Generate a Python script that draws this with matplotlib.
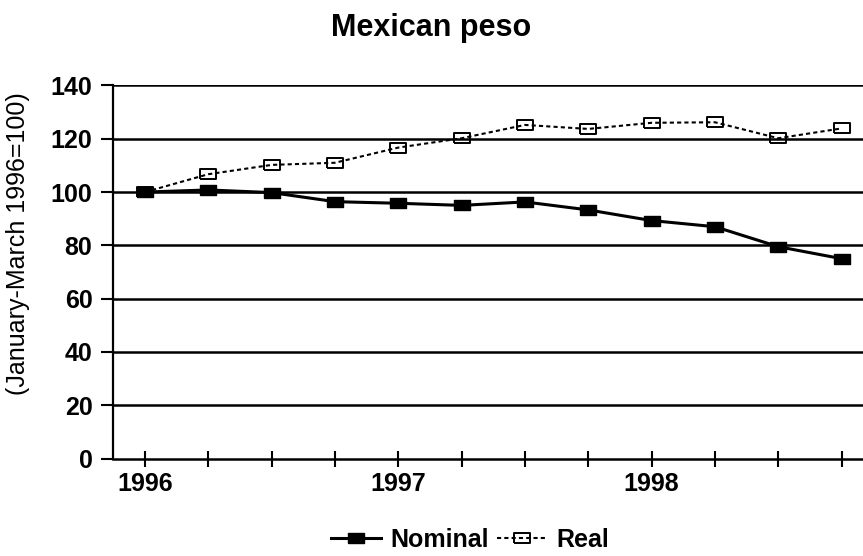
"""Mexican peso: nominal and real index, quarterly 1996-1998."""

import matplotlib
matplotlib.use('Agg')
import matplotlib.pyplot as plt
import numpy as np

plt.rcParams['font.family'] = ['Liberation Sans', 'DejaVu Sans']

quarters = np.arange(12)
year_ticks = [0, 4, 8]
year_labels = ['1996', '1997', '1998']
nominal = [100.0, 100.8, 99.8, 96.4, 95.8, 95.0, 96.3, 93.3, 89.3, 87.0, 79.5, 75.0]
real = [100.0, 106.7, 110.2, 111.0, 116.7, 120.2, 125.2, 123.7, 126.0, 126.2, 120.2, 123.9]
y_ticks = [0, 20, 40, 60, 80, 100, 120, 140]

# wide, flat box marker like the original
box = [(-1.5, -1), (1.5, -1), (1.5, 1), (-1.5, 1), (-1.5, -1)]

fig = plt.figure(figsize=(8.63, 5.56), dpi=100)
ax = fig.add_axes([113.3 / 863, 97.5 / 556, 760 / 863, 373 / 556])

for y in y_ticks[1:]:
    ax.axhline(y, color='black', lw=1.8, zorder=1)

ax.plot(quarters, nominal, color='black', lw=2.2, marker=box,
        markersize=11, markerfacecolor='black', markeredgecolor='black',
        label='Nominal', zorder=3)
ax.plot(quarters, real, color='black', lw=1.5, linestyle=(0, (2, 1.5)),
        marker=box, markersize=11, markerfacecolor='none',
        markeredgecolor='black', markeredgewidth=1.4, label='Real', zorder=3)

ax.set_xlim(-0.5, 11.5)
ax.set_ylim(0, 140)
ax.set_yticks(y_ticks)
ax.set_xticks(quarters)
ax.set_xticklabels([year_labels[year_ticks.index(q)] if q in year_ticks else ''
                    for q in quarters])

for side in ['top', 'right']:
    ax.spines[side].set_visible(False)
ax.spines['left'].set_linewidth(1.6)
ax.spines['bottom'].set_linewidth(1.8)
ax.tick_params(axis='y', direction='out', length=9, width=1.5, pad=6,
               labelsize=18)
ax.tick_params(axis='x', direction='inout', length=11, width=1.5, pad=4,
               labelsize=18)
for lab in ax.get_xticklabels() + ax.get_yticklabels():
    lab.set_fontweight('bold')

fig.text(0.5, 1 - 28 / 556, 'Mexican peso', ha='center', va='center',
         fontsize=22, fontweight='bold')
fig.text(18 / 863, 1 - 244 / 556, '(January-March 1996=100)', ha='center',
         va='center', rotation=90, fontsize=18)

fig.legend(loc='center', bbox_to_anchor=(470 / 863, 1 - 540 / 556), ncol=2,
           frameon=False, handlelength=2.0, handletextpad=0.4,
           columnspacing=0.3, prop={'size': 18, 'weight': 'bold'})

fig.savefig('out.png', dpi=100)
plt.close()
